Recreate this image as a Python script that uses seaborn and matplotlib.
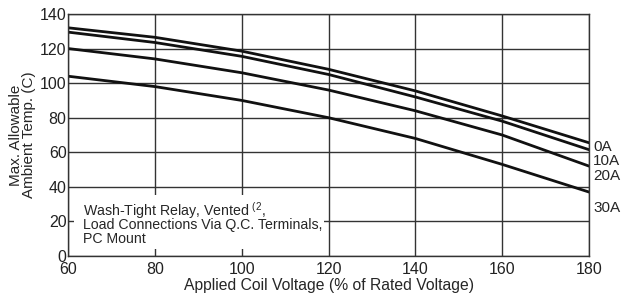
import numpy as np
import pandas as pd
import matplotlib
matplotlib.use('Agg')
import matplotlib.pyplot as plt
from matplotlib.patches import Rectangle
import seaborn as sns

# Dados
voltage = [60, 80, 100, 120, 140, 160, 180]
temp_0a = [132, 126.5, 118.5, 108, 95.5, 81, 65.5]
temp_10a = [129.5, 123.5, 115.5, 105, 92, 78, 61.5]
temp_20a = [120, 114, 106, 96, 84, 70, 52]
temp_30a = [104, 98, 90, 80, 68, 53, 37]
curves = ['0A', '10A', '20A', '30A']
label_y = [63, 55, 46, 28]
note_lines = ['Wash-Tight Relay, Vented $\\mathregular{^{(2}}$,',
              'Load Connections Via Q.C. Terminals,',
              'PC Mount']

series = [temp_0a, temp_10a, temp_20a, temp_30a]
df = pd.DataFrame({
    'voltage': voltage * len(curves),
    'temp': sum(series, []),
    'curve': np.repeat(curves, len(voltage)),
})

sns.set_style('white')
plt.rcParams['font.family'] = ['Liberation Sans', 'DejaVu Sans']
plt.rcParams['mathtext.fontset'] = 'custom'
plt.rcParams['mathtext.rm'] = 'Liberation Sans'

fig = plt.figure(figsize=(6.21, 2.97), dpi=100)
ax = fig.add_axes([0.1095, 0.138, 0.839, 0.815])

sns.lineplot(data=df, x='voltage', y='temp', hue='curve',
             palette=['#111111'] * 4, linewidth=2, legend=False, ax=ax)

ax.set_xlim(60, 180)
ax.set_ylim(0, 140)
ax.set_xticks(range(60, 181, 20))
ax.set_yticks(range(0, 141, 20))
ax.grid(True, color='#333333', linewidth=1)
ax.tick_params(axis='both', labelsize=11.5, colors='#222222', length=0)
ax.tick_params(axis='x', pad=4)
ax.tick_params(axis='y', pad=1)
for s in ax.spines.values():
    s.set_color('#333333')
    s.set_linewidth(1)

ax.set_xlabel('Applied Coil Voltage (% of Rated Voltage)', fontsize=11.3, labelpad=1)
ax.set_ylabel('Max. Allowable\nAmbient Temp. (C)', fontsize=11, labelpad=3, linespacing=0.9)

for name, y in zip(curves, label_y):
    ax.text(181, y, name, fontsize=11, va='center', ha='left', clip_on=False)

# fundo branco da nota, cobrindo a grade
ax.add_patch(Rectangle((0.012, 0.03), 0.48, 0.222, transform=ax.transAxes,
                       facecolor='white', edgecolor='none', zorder=1))

# nota no canto inferior esquerdo, uma linha por texto
for i, line in enumerate(note_lines):
    ax.text(0.028, 0.168 - i * 0.057, line, transform=ax.transAxes,
            fontsize=10.2, va='baseline', ha='left', zorder=3)

fig.savefig('out.png', dpi=100)
